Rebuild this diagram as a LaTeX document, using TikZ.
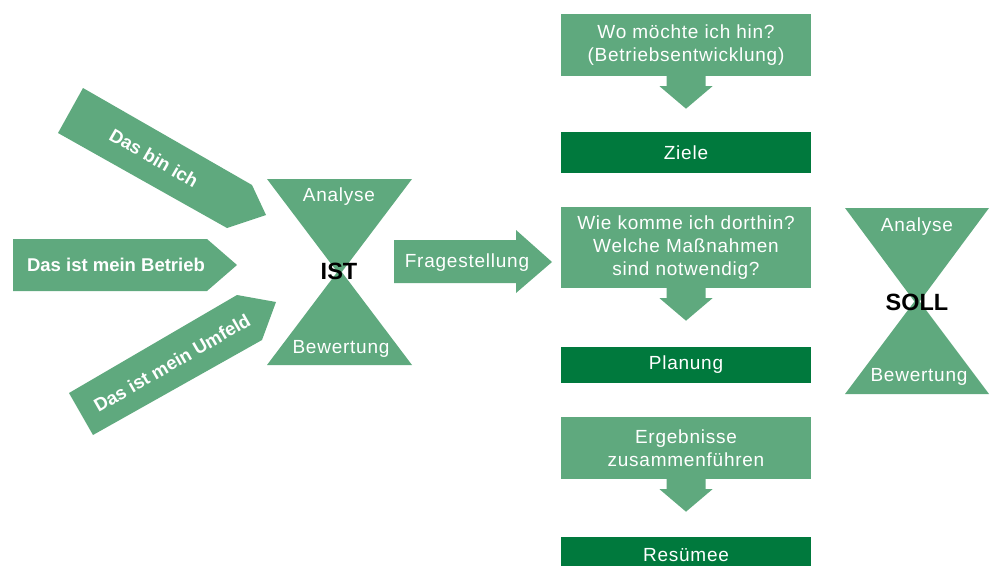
\documentclass[tikz,border=0pt]{standalone}
\usepackage{fontspec}
\setmainfont{Liberation Sans}
\newfontfamily\widefont[LetterSpace=4]{Liberation Sans}
\definecolor{lg}{HTML}{5FA97E}
\definecolor{dg}{HTML}{00793D}
\tikzset{
  lbl/.style={font=\widefont\fontsize{19}{23}\selectfont, text=white, align=center, inner sep=0pt},
  lshape/.style={fill=lg},
  lbox/.style={lbl, fill=lg, minimum width=250pt},
  dbox/.style={lbl, fill=dg, minimum width=250pt},
  boldlbl/.style={font=\bfseries\fontsize{18.5}{22}\selectfont, text=white, inner sep=0pt},
  bigblack/.style={font=\bfseries\fontsize{23.5}{28}\selectfont, text=black, inner sep=0pt},
}
\newcommand\downarrowunder[1]{%
  \fill[lg] ([yshift=1pt]#1.south) ++(-19.5,0) -- ++(0,11) -- ++(-7,0) -- ++(26.5,22.5)
    -- ++(26.5,-22.5) -- ++(-7,0) -- ++(0,-11) -- cycle;}
\begin{document}
\begin{tikzpicture}[x=1pt,y=-1pt]
\useasboundingbox (0,0) rectangle (990,565);
\clip (0,0) rectangle (990,565);

% left arrows
\fill[lshape] (83,88) -- (252,185) -- (266,215) -- (227,228) -- (58,133) -- cycle;
\node[boldlbl, rotate=-30] (ich) at (154,158) {Das bin ich};

\fill[lshape] (13,239) -- (207,239) -- (237,265) -- (207,291) -- (13,291) -- cycle;
\node[boldlbl] (betrieb) at (116,265) {Das ist mein Betrieb};

\fill[lshape] (93,435) -- (69,393) -- (237,295) -- (276,302) -- (262,340) -- cycle;
\node[boldlbl, rotate=30] (umfeld) at (172,363) {Das ist mein Umfeld};

% IST hourglass
\fill[lshape] (267,179) -- (412,179) -- (339.5,275) -- cycle;
\fill[lshape] (267,365) -- (412,365) -- (339.5,269) -- cycle;
\node[lbl] (istA) at (339,197) {Analyse};
\node[lbl] (istB) at (341,349) {Bewertung};
\node[bigblack] (ist) at (339,271) {IST};

% Fragestellung arrow
\fill[lshape] (394,240) -- (516,240) -- (516,230) -- (552,262) -- (516,293) -- (516,283) -- (394,283) -- cycle;
\node[lbl] (frage) at (467,263) {Fragestellung};

% right column
\node[lbox, minimum height=62pt] (b1) at (686,45) {Wo möchte ich hin?\\(Betriebsentwicklung)};
\downarrowunder{b1}
\node[dbox, minimum height=41pt] (ziele) at (686,152.5) {Ziele};

\node[lbox, minimum height=81pt] (b2) at (686,247.5) {Wie komme ich dorthin?\\Welche Maßnahmen\\sind notwendig?};
\downarrowunder{b2}
\node[dbox, minimum height=36pt] (planung) at (686,365) {Planung};

\node[lbox, minimum height=62pt] (b3) at (686,448) {Ergebnisse\\zusammenführen};
\downarrowunder{b3}
\node[dbox, minimum height=36pt] (resumee) at (686,555) {Resümee};

% SOLL hourglass
\fill[lshape] (845,208) -- (989,208) -- (917,305) -- cycle;
\fill[lshape] (845,394) -- (989,394) -- (917,298) -- cycle;
\node[lbl] (sollA) at (917,227) {Analyse};
\node[lbl] (sollB) at (919,377) {Bewertung};
\node[bigblack] (soll) at (917,302) {SOLL};
\end{tikzpicture}
\end{document}
